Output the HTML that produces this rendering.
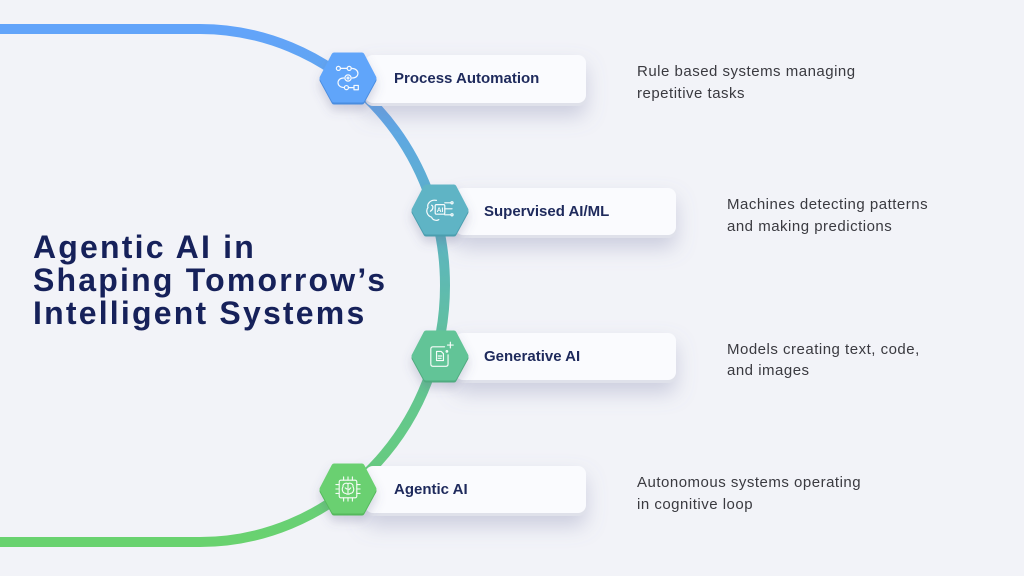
<!DOCTYPE html>
<html>
<head>
<meta charset="utf-8">
<style>
  html,body{margin:0;padding:0;background:#f2f3f8;}
  body{width:1024px;height:576px;overflow:hidden;}
  svg{display:block;}
  .lbl{font-family:"Liberation Sans",sans-serif;font-weight:bold;font-size:15px;fill:#1e2a5c;}
  .desc{font-family:"Liberation Sans",sans-serif;font-size:15px;fill:#3a3a40;letter-spacing:0.5px;}
  .title{font-family:"Liberation Sans",sans-serif;font-weight:bold;font-size:32px;fill:#16215a;letter-spacing:2.2px;}
  .ic{fill:none;stroke:#ffffff;stroke-width:1;stroke-linecap:round;stroke-linejoin:round;opacity:0.95;}
</style>
</head>
<body>
<svg width="1024" height="576" viewBox="0 0 1024 576" xmlns="http://www.w3.org/2000/svg">
  <defs>
    <linearGradient id="curve" x1="0" y1="29" x2="0" y2="542" gradientUnits="userSpaceOnUse">
      <stop offset="0" stop-color="#62a4fa"/>
      <stop offset="0.18" stop-color="#5fa6e6"/>
      <stop offset="0.36" stop-color="#5cb2c8"/>
      <stop offset="0.64" stop-color="#62c398"/>
      <stop offset="1" stop-color="#69d26f"/>
    </linearGradient>
    <filter id="sh" x="-20%" y="-40%" width="140%" height="240%">
      <feDropShadow dx="0" dy="10" stdDeviation="10" flood-color="#7a7fa8" flood-opacity="0.32"/>
    </filter>
    <filter id="hsh" x="-40%" y="-40%" width="180%" height="200%">
      <feDropShadow dx="0" dy="6" stdDeviation="5" flood-color="#5a5f88" flood-opacity="0.25"/>
    </filter>
  </defs>

  <rect width="1024" height="576" fill="#f2f3f8"/>

  <!-- main curve -->
  <path d="M -10 29 L 200 29 A 245 256.5 0 0 1 200 542 L -10 542" fill="none" stroke="url(#curve)" stroke-width="10"/>

  <!-- Title -->
  <text class="title" x="33" y="258">Agentic AI in</text>
  <text class="title" x="33" y="291">Shaping Tomorrow’s</text>
  <text class="title" x="33" y="324">Intelligent Systems</text>

  <!-- Card 1 -->
  <g filter="url(#sh)">
    <rect x="365" y="58" width="221" height="48" rx="8" fill="#dfe1ea"/>
    <rect x="365" y="55" width="221" height="48" rx="8" fill="#fafbfe"/>
  </g>
  <text class="lbl" x="394" y="83">Process Automation</text>

  <!-- Card 2 -->
  <g filter="url(#sh)">
    <rect x="455" y="191" width="221" height="47" rx="8" fill="#dfe1ea"/>
    <rect x="455" y="188" width="221" height="47" rx="8" fill="#fafbfe"/>
  </g>
  <text class="lbl" x="484" y="216">Supervised AI/ML</text>

  <!-- Card 3 -->
  <g filter="url(#sh)">
    <rect x="455" y="336" width="221" height="47" rx="8" fill="#dfe1ea"/>
    <rect x="455" y="333" width="221" height="47" rx="8" fill="#fafbfe"/>
  </g>
  <text class="lbl" x="484" y="361">Generative AI</text>

  <!-- Card 4 -->
  <g filter="url(#sh)">
    <rect x="365" y="469" width="221" height="47" rx="8" fill="#dfe1ea"/>
    <rect x="365" y="466" width="221" height="47" rx="8" fill="#fafbfe"/>
  </g>
  <text class="lbl" x="394" y="494">Agentic AI</text>

  <!-- H1 -->
  <g transform="translate(348,78)">
    <g filter="url(#hsh)">
      <polygon points="-14,-20 14,-20 26,2 14,24 -14,24 -26,2" fill="#4a8de0" stroke="#4a8de0" stroke-width="5" stroke-linejoin="round"/>
      <polygon points="-14,-23 14,-23 26,0 14,22 -14,22 -26,0" fill="#61a5fa" stroke="#61a5fa" stroke-width="5" stroke-linejoin="round"/>
    </g>
    <g class="ic" transform="scale(1.2)">
      <circle cx="-8" cy="-8" r="1.7"/>
      <line x1="-6.3" y1="-8" x2="-0.7" y2="-8"/>
      <circle cx="1" cy="-8" r="1.7"/>
      <path d="M2.7,-8 C10,-8 10,0 3.5,0"/>
      <circle cx="0" cy="0" r="2.6"/>
      <circle cx="0" cy="0" r="0.8"/>
      <path d="M-3.5,0 C-10,0 -10,8 -3,8"/>
      <circle cx="-1.3" cy="8" r="1.7"/>
      <line x1="0.4" y1="8" x2="5" y2="8"/>
      <rect x="5" y="6.2" width="3.6" height="3.6"/>
    </g>
  </g>

  <!-- H2 -->
  <g transform="translate(440,210)">
    <g filter="url(#hsh)">
      <polygon points="-14,-20 14,-20 26,2 14,24 -14,24 -26,2" fill="#4b9eae" stroke="#4b9eae" stroke-width="5" stroke-linejoin="round"/>
      <polygon points="-14,-23 14,-23 26,0 14,22 -14,22 -26,0" fill="#5eb4c5" stroke="#5eb4c5" stroke-width="5" stroke-linejoin="round"/>
    </g>
    <g class="ic" transform="scale(1.2)">
      <path d="M-3,-8 C-8,-9 -11,-5 -10,-2 C-12,0 -11,5 -7,6 C-6,9 -2,9 -1,8"/>
      <path d="M-7,-4 C-5,-3 -6,0 -8,1"/>
      <rect x="-4" y="-4.5" width="8" height="8" rx="1"/>
      <line x1="4" y1="-6" x2="9" y2="-6"/>
      <line x1="4" y1="-1" x2="10" y2="-1"/>
      <line x1="4" y1="4" x2="9" y2="4"/>
      <circle cx="10" cy="-6" r="0.9"/>
      <circle cx="10" cy="4" r="0.9"/>
    </g>
    <text x="0" y="2.2" text-anchor="middle" font-family="Liberation Sans, sans-serif" font-size="6.5" font-weight="bold" fill="#ffffff">AI</text>
  </g>

  <!-- H3 -->
  <g transform="translate(440,356)">
    <g filter="url(#hsh)">
      <polygon points="-14,-20 14,-20 26,2 14,24 -14,24 -26,2" fill="#4fab7f" stroke="#4fab7f" stroke-width="5" stroke-linejoin="round"/>
      <polygon points="-14,-23 14,-23 26,0 14,22 -14,22 -26,0" fill="#62c497" stroke="#62c497" stroke-width="5" stroke-linejoin="round"/>
    </g>
    <g class="ic" transform="scale(1.15)">
      <path d="M4,-8 L-6,-8 Q-8,-8 -8,-6 L-8,7 Q-8,9 -6,9 L5,9 Q7,9 7,7 L7,-1"/>
      <path d="M-3,-4 L1,-4 L3,-2 L3,4 L-3,4 Z"/>
      <line x1="-1.5" y1="0" x2="1.5" y2="0"/>
      <line x1="-1.5" y1="2" x2="1" y2="2"/>
      <path d="M9,-12 L9,-7 M6.5,-9.5 L11.5,-9.5"/>
      <circle cx="6" cy="-4" r="0.7"/>
    </g>
  </g>

  <!-- H4 -->
  <g transform="translate(348,489)">
    <g filter="url(#hsh)">
      <polygon points="-14,-20 14,-20 26,2 14,24 -14,24 -26,2" fill="#55b95c" stroke="#55b95c" stroke-width="5" stroke-linejoin="round"/>
      <polygon points="-14,-23 14,-23 26,0 14,22 -14,22 -26,0" fill="#6ad071" stroke="#6ad071" stroke-width="5" stroke-linejoin="round"/>
    </g>
    <g class="ic" transform="scale(1.1)">
      <rect x="-8" y="-8" width="16" height="16" rx="1.5"/>
      <path d="M-4,-8 V-11 M0,-8 V-11 M4,-8 V-11 M-4,8 V11 M0,8 V11 M4,8 V11 M-8,-4 H-11 M-8,0 H-11 M-8,4 H-11 M8,-4 H11 M8,0 H11 M8,4 H11"/>
      <path d="M0,-5 C-3,-6 -5,-4 -4.5,-2 C-6,0 -5,4 -2,4 C-1,5 0,5 0,4 Z"/>
      <path d="M0,-5 C3,-6 5,-4 4.5,-2 C6,0 5,4 2,4 C1,5 0,5 0,4"/>
      <path d="M-2.5,-1 L-1,0 M2.5,-1 L1,0.5"/>
    </g>
  </g>

  <!-- Descriptions -->
  <text class="desc" x="637" y="76">Rule based systems managing</text>
  <text class="desc" x="637" y="98">repetitive tasks</text>

  <text class="desc" x="727" y="209">Machines detecting patterns</text>
  <text class="desc" x="727" y="231">and making predictions</text>

  <text class="desc" x="727" y="354">Models creating text, code,</text>
  <text class="desc" x="727" y="375">and images</text>

  <text class="desc" x="637" y="487">Autonomous systems operating</text>
  <text class="desc" x="637" y="509">in cognitive loop</text>
</svg>
</body>
</html>
